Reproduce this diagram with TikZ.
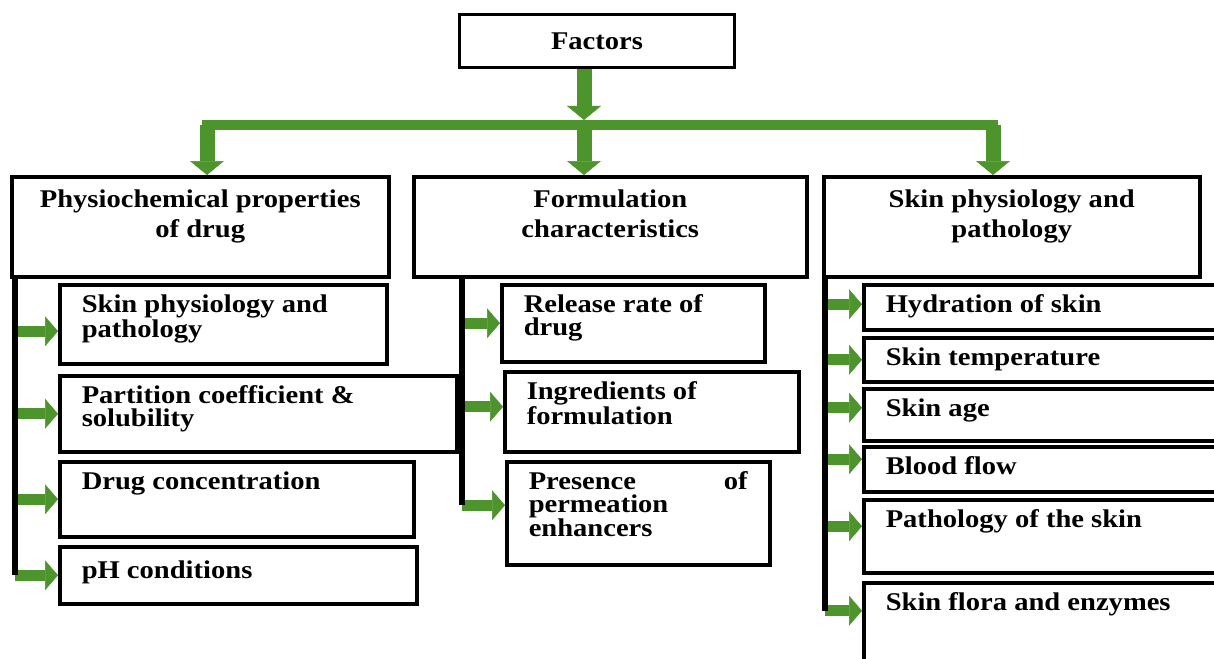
\documentclass[tikz,border=0pt]{standalone}
\usepackage{fontspec}
\setmainfont{Liberation Serif}[FakeStretch=1.12]
\usetikzlibrary{positioning,arrows.meta,calc}
\definecolor{arrgreen}{RGB}{78,148,44}
\newcommand{\headfnt}{\fontsize{25.5}{30}\selectfont\bfseries}
\newcommand{\itemfnt}{\fontsize{25.5}{23}\selectfont\bfseries}
\newcommand{\boxtxt}[3]{\parbox[t][#2][t]{#1}{\raggedright\rule{0pt}{28pt}#3}}
\newcommand{\headtxt}[3]{\parbox[t][#2][t]{#1}{\centering\rule{0pt}{31pt}#3}}

\begin{document}
\begin{tikzpicture}[x=1pt, y=-1pt,
  hd/.style={draw, line width=3.5pt, anchor=north west, inner sep=0pt, font=\headfnt},
  sub/.style={draw, line width=3.5pt, anchor=north west, inner xsep=22pt, inner ysep=0pt, font=\itemfnt},
  gdown/.style={draw=arrgreen, line width=15pt, -{Triangle[length=14pt,width=34pt,line width=0.5pt]}},
  gright/.style={draw=arrgreen, line width=11pt, -{Triangle[length=13pt,width=30pt,line width=0.5pt]}},
  gbar/.style={draw=arrgreen, line width=10pt, line cap=rect},
  spine/.style={draw, line width=6pt}]
\clip (0,0) rectangle (1214,658);
% top level
\node[hd, minimum width=275pt, minimum height=53pt, anchor=center] (fac) at (597,41) {Factors};
\node[hd] (phys) at (10,175)  {\headtxt{377pt}{100pt}{Physiochemical properties\\of drug}};
\node[hd] (form) at (412,175) {\headtxt{393pt}{100pt}{Formulation\\characteristics}};
\node[hd] (skin) at (822,175) {\headtxt{376pt}{100pt}{Skin physiology and\\pathology}};
\coordinate (bl) at (207,125);
\coordinate (bm) at (584,125);
\coordinate (br) at (993,125);
\draw[gbar] (bl) -- (br);
\draw[gdown, shorten >=5pt] (bm |- fac.south) -- (bm);
\draw[gdown] (bl) -- (bl |- phys.north);
\draw[gdown] (bm) -- (bm |- form.north);
\draw[gdown] (br) -- (br |- skin.north);
% physiochemical
\node[sub] (l1) at (58,283) {\boxtxt{283pt}{79pt}{Skin physiology and\\pathology}};
\node[sub] (l2) at (58,374) {\boxtxt{353pt}{76pt}{Partition coefficient \&\\solubility}};
\node[sub] (l3) at (58,460) {\boxtxt{310pt}{75pt}{Drug concentration}};
\node[sub] (l4) at (58,545) {\boxtxt{313pt}{57pt}{\rule{0pt}{32pt}pH conditions}};
% formulation
\node[sub] (m1) at (500,283) {\boxtxt{219pt}{77pt}{Release rate of\\drug}};
\node[sub] (m2) at (503,370) {\boxtxt{250pt}{80pt}{Ingredients of\\formulation}};
\node[sub] (m3) at (505,460) {\boxtxt{219pt}{103pt}{Presence\hfill of\\permeation\\enhancers}};
% skin
\node[sub] (r1) at (862,283) {\boxtxt{334pt}{45pt}{Hydration of skin}};
\node[sub] (r2) at (862,336) {\boxtxt{334pt}{44pt}{Skin temperature}};
\node[sub] (r3) at (862,387) {\boxtxt{334pt}{52pt}{Skin age}};
\node[sub] (r4) at (862,445) {\boxtxt{334pt}{45pt}{Blood flow}};
\node[sub] (r5) at (862,498) {\boxtxt{334pt}{73pt}{Pathology of the skin}};
\node[sub] (r6) at (862,581) {\boxtxt{334pt}{90pt}{Skin flora and enzymes}};
% branches
\coordinate (lsp) at (15,275);
\coordinate (msp) at (462,275);
\coordinate (rsp) at (825,275);
\foreach \n/\dy in {l1/7,l2/0,l3/0,l4/0} {
  \coordinate (t) at ($(\n.west)+(0,\dy)$);
  \draw[gright] (lsp |- t) -- (t);
}
\foreach \n/\dy in {m1/0,m2/-5,m3/-8} {
  \coordinate (t) at ($(\n.west)+(0,\dy)$);
  \draw[gright] (msp |- t) -- (t);
}
\foreach \n/\dy in {r1/-3,r2/0,r3/-7,r4/-10,r5/-10,r6/-17} {
  \coordinate (t) at ($(\n.west)+(0,\dy)$);
  \draw[gright] (rsp |- t) -- (t);
}
\draw[spine] (lsp) -- (lsp |- l4.west);
\draw[spine] (msp) -- ($(msp |- m3.west)+(0,-8)$);
\draw[spine] (rsp) -- ($(rsp |- r6.west)+(0,-17)$);
\end{tikzpicture}
\end{document}
